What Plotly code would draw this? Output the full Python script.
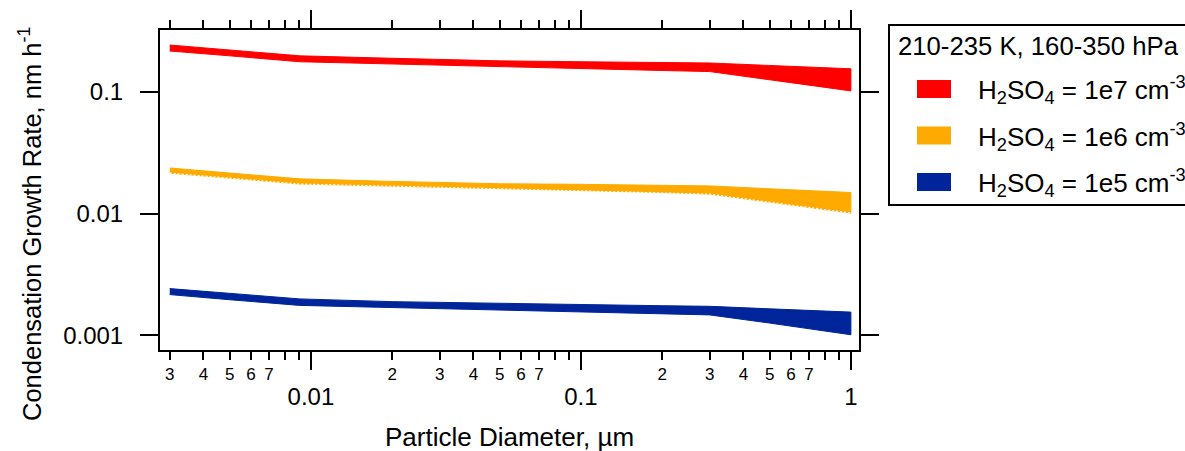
import plotly.graph_objects as go

# Particle diameter (µm) and upper / lower bounds of the condensation growth rate (nm h^-1)
diameter_um = [0.003, 0.005, 0.0091, 0.02, 0.05, 0.1, 0.2, 0.3, 0.5, 0.7, 1.0]

gr_1e7_hi = [0.243, 0.221, 0.198, 0.189, 0.180, 0.177, 0.175, 0.173, 0.165, 0.160, 0.155]
gr_1e7_lo = [0.217, 0.198, 0.177, 0.170, 0.160, 0.156, 0.150, 0.147, 0.126, 0.114, 0.102]

gr_1e6_hi = [0.0237, 0.0216, 0.0193, 0.0184, 0.0176, 0.0174, 0.0171, 0.0169, 0.0160, 0.0155, 0.0149]
gr_1e6_lo = [0.0215, 0.0196, 0.0175, 0.0168, 0.0160, 0.0155, 0.0149, 0.01445, 0.0124, 0.0112, 0.0101]

gr_1e5_hi = [0.00242, 0.00220, 0.00199, 0.00189, 0.00182, 0.00179, 0.00175, 0.00173, 0.00165, 0.00160, 0.00155]
gr_1e5_lo = [0.00216, 0.00196, 0.00176, 0.00169, 0.00160, 0.00156, 0.00150, 0.00147, 0.00126, 0.00114, 0.00101]

legend_title = "210-235 K, 160-350 hPa"
series_labels = [
    "H<sub>2</sub>SO<sub>4</sub> = 1e7 cm<sup>-3</sup>",
    "H<sub>2</sub>SO<sub>4</sub> = 1e6 cm<sup>-3</sup>",
    "H<sub>2</sub>SO<sub>4</sub> = 1e5 cm<sup>-3</sup>",
]
series_colors = ["#FF0000", "#FFAA00", "#00259A"]

decade_ticks = [0.01, 0.1, 1]
decade_text = ["0.01", "0.1", "1"]
minor_ticks = [0.003, 0.004, 0.005, 0.006, 0.007, 0.008, 0.009,
               0.02, 0.03, 0.04, 0.05, 0.06, 0.07, 0.08, 0.09,
               0.2, 0.3, 0.4, 0.5, 0.6, 0.7, 0.8, 0.9]
minor_text = ["3", "4", "5", "6", "7", "", "",
              "2", "3", "4", "5", "6", "7", "", "",
              "2", "3", "4", "5", "6", "7", "", ""]
y_ticks = [0.001, 0.01, 0.1]
y_text = ["0.001", "0.01", "0.1"]

FONT = "Liberation Sans, Arial, Helvetica, sans-serif"
W, H = 1185, 451
L, R, T, B = 160, 859, 30, 350  # plot-area edges in pixels


def paper_x(px):
    return (px - L) / (R - L)


def paper_y(py):
    return (B - py) / (B - T)


fig = go.Figure()

bands = [(gr_1e7_hi, gr_1e7_lo), (gr_1e6_hi, gr_1e6_lo), (gr_1e5_hi, gr_1e5_lo)]
for (hi, lo), color, label in zip(bands, series_colors, series_labels):
    fig.add_trace(go.Scatter(
        x=diameter_um + diameter_um[::-1],
        y=hi + lo[::-1],
        fill="toself", fillcolor=color,
        mode="lines", line=dict(color=color, width=1),
        name=label, showlegend=False, hoverinfo="skip",
    ))

# fine dotted lower edge of the 1e6 band
fig.add_trace(go.Scatter(
    x=diameter_um, y=gr_1e6_lo, xaxis="x2",
    mode="lines", line=dict(color="white", width=1.2, dash="2px,2px"),
    showlegend=False, hoverinfo="skip",
))

axis_common = dict(
    showgrid=False, zeroline=False, ticks="outside", tickwidth=2, tickcolor="black",
)

x_range = [-2.559, 0.030]
fig.update_layout(
    width=W, height=H,
    margin=dict(l=L, r=W - R, t=T, b=H - B, autoexpand=False),
    paper_bgcolor="white", plot_bgcolor="white",
    showlegend=False,
    xaxis=dict(
        type="log", range=x_range, tickvals=decade_ticks, ticktext=decade_text,
        ticklen=18, showline=True, linewidth=2, linecolor="black", mirror="ticks",
        ticklabelstandoff=6, tickfont=dict(family=FONT, size=24, color="black"),
        **axis_common,
    ),
    xaxis2=dict(
        type="log", range=x_range, overlaying="x", anchor="y", side="bottom",
        tickvals=minor_ticks, ticktext=minor_text, ticklen=9,
        showline=False, mirror="ticks", ticklabelstandoff=0,
        tickfont=dict(family=FONT, size=17, color="black"),
        **axis_common,
    ),
    yaxis=dict(
        type="log", range=[-3.121, -0.491], tickvals=y_ticks, ticktext=y_text,
        ticklen=18, showline=True, linewidth=2, linecolor="black", mirror="ticks",
        ticklabelstandoff=12, tickfont=dict(family=FONT, size=24, color="black"),
        **axis_common,
    ),
)

annotations = [
    dict(text="Particle Diameter, µm", x=0.5, y=paper_y(437), xref="paper", yref="paper",
         xanchor="center", yanchor="middle", showarrow=False,
         font=dict(family=FONT, size=26, color="black")),
    dict(text="Condensation Growth Rate, nm h<sup>-1</sup>", x=paper_x(30), y=paper_y(224),
         xref="paper", yref="paper", xanchor="center", yanchor="middle", textangle=-90,
         showarrow=False, font=dict(family=FONT, size=25.5, color="black")),
    dict(text=legend_title, x=paper_x(896), y=paper_y(46), xref="paper", yref="paper",
         xanchor="left", yanchor="middle", showarrow=False,
         font=dict(family=FONT, size=25.7, color="black")),
]
shapes = [
    dict(type="rect", xref="paper", yref="paper", x0=paper_x(889), x1=paper_x(1210),
         y0=paper_y(25), y1=paper_y(205), line=dict(color="black", width=2),
         fillcolor="white", layer="below"),
]
swatch_centers = [89, 135.5, 182]
for yc, color, label in zip(swatch_centers, series_colors, series_labels):
    shapes.append(dict(type="rect", xref="paper", yref="paper",
                       x0=paper_x(917), x1=paper_x(951), y0=paper_y(yc - 9), y1=paper_y(yc + 9),
                       line=dict(color=color, width=0), fillcolor=color))
    annotations.append(dict(text=label, x=paper_x(976), y=paper_y(yc + 1), xref="paper", yref="paper",
                            xanchor="left", yanchor="middle", showarrow=False,
                            font=dict(family=FONT, size=26, color="black")))

fig.update_layout(annotations=annotations, shapes=shapes)
fig.write_html("out.html")
